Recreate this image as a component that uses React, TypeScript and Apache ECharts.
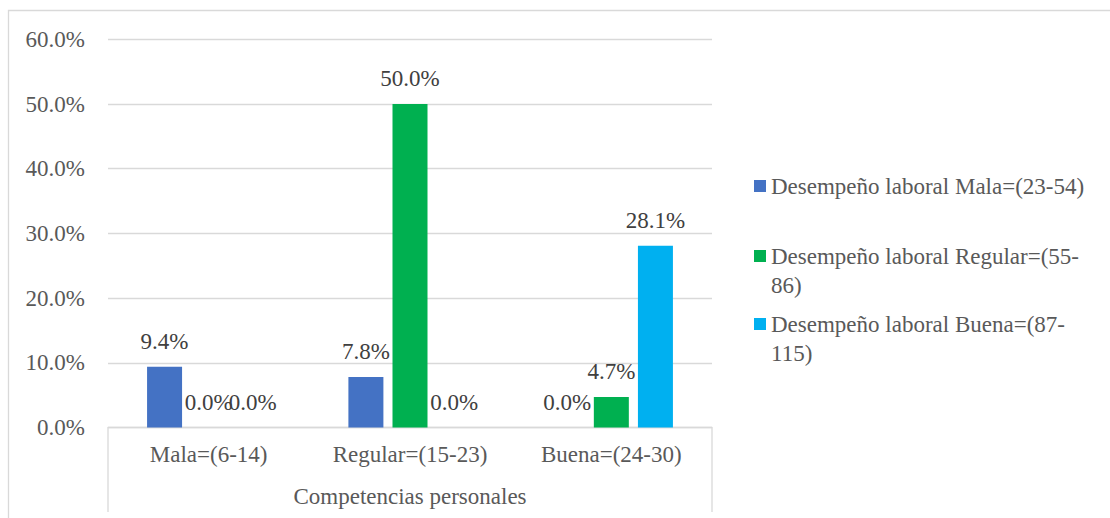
import React, { useEffect, useRef } from "react";
import * as echarts from "echarts";

const categories = ["Mala=(6-14)", "Regular=(15-23)", "Buena=(24-30)"];
const seriesNames = [
  "Desempeño laboral Mala=(23-54)",
  "Desempeño laboral Regular=(55-86)",
  "Desempeño laboral Buena=(87-115)",
];
const legendLabels = [
  "Desempeño laboral Mala=(23-54)",
  "\nDesempeño laboral Regular=(55-\n86)",
  "\nDesempeño laboral Buena=(87-\n115)",
];
const malaValues = [9.4, 7.8, 0.0];
const regularValues = [0.0, 50.0, 4.7];
const buenaValues = [0.0, 0.0, 28.1];
const yTicks = { min: 0, max: 60, interval: 10 };
const axisTitle = "Competencias personales";

const colors = ["#4472C4", "#00B050", "#00B0F0"];
const FONT = "Liberation Serif";
const FS = 23;
const LH = 29;

export default function App() {
  const ref = useRef<HTMLDivElement>(null);
  useEffect(() => {
    if (!ref.current) return;
    const chart = echarts.init(ref.current, undefined, { renderer: "svg" });
    const values = [malaValues, regularValues, buenaValues];
    const legendTops = [171.5, 212.5, 280.5];
    const gridLeft = 108;
    const gridRight = 712;
    const axisY = 427.5;
    chart.setOption({
      animation: false,
      backgroundColor: "#ffffff",
      textStyle: { fontFamily: FONT },
      grid: { left: gridLeft, right: 1110 - gridRight, top: 39.3, bottom: 518 - axisY },
      legend: seriesNames.map((name, i) => ({
        data: [name],
        orient: "vertical",
        left: 754,
        top: legendTops[i],
        padding: 0,
        itemWidth: 12,
        itemHeight: 12,
        icon: "rect",
        selectedMode: false,
        formatter: () => legendLabels[i],
        textStyle: {
          fontFamily: FONT,
          fontSize: FS,
          color: "#595959",
          lineHeight: LH,
        },
      })),
      xAxis: {
        type: "category",
        data: categories,
        axisLine: { lineStyle: { color: "#d9d9d9", width: 1.3 } },
        axisTick: { show: false },
        axisLabel: { fontFamily: FONT, fontSize: FS, color: "#595959", margin: 15 },
        name: axisTitle,
        nameLocation: "middle",
        nameGap: 57,
        nameTextStyle: { fontFamily: FONT, fontSize: FS, color: "#595959" },
      },
      yAxis: {
        type: "value",
        min: yTicks.min,
        max: yTicks.max,
        interval: yTicks.interval,
        axisLine: { show: false },
        axisTick: { show: false },
        splitLine: { lineStyle: { color: "#d9d9d9", width: 1.3 } },
        axisLabel: {
          fontFamily: FONT,
          fontSize: FS,
          color: "#595959",
          margin: 23,
          formatter: (v: number) => v.toFixed(1) + "%",
        },
      },
      series: seriesNames.map((name, i) => ({
        name,
        type: "bar",
        data: values[i],
        barWidth: 35,
        barGap: "26%",
        itemStyle: { color: colors[i] },
        label: {
          show: true,
          position: "top",
          distance: 14,
          fontFamily: FONT,
          fontSize: FS,
          color: "#404040",
          formatter: (p: any) => Number(p.value).toFixed(1) + "%",
        },
      })),
      graphic: [
        {
          type: "rect",
          silent: true,
          shape: { x: 8.5, y: 10.5, width: 1200, height: 600 },
          style: { fill: "none", stroke: "#d9d9d9", lineWidth: 1.3 },
        },
        {
          type: "line",
          silent: true,
          shape: { x1: gridLeft, y1: axisY, x2: gridLeft, y2: 512 },
          style: { stroke: "#d9d9d9", lineWidth: 1.3 },
        },
        {
          type: "line",
          silent: true,
          shape: { x1: gridRight, y1: axisY, x2: gridRight, y2: 512 },
          style: { stroke: "#d9d9d9", lineWidth: 1.3 },
        },
      ],
    });
    return () => chart.dispose();
  }, []);
  return (
    <div
      ref={ref}
      style={{ position: "fixed", left: 0, top: 0, width: 1110, height: 518 }}
    />
  );
}
